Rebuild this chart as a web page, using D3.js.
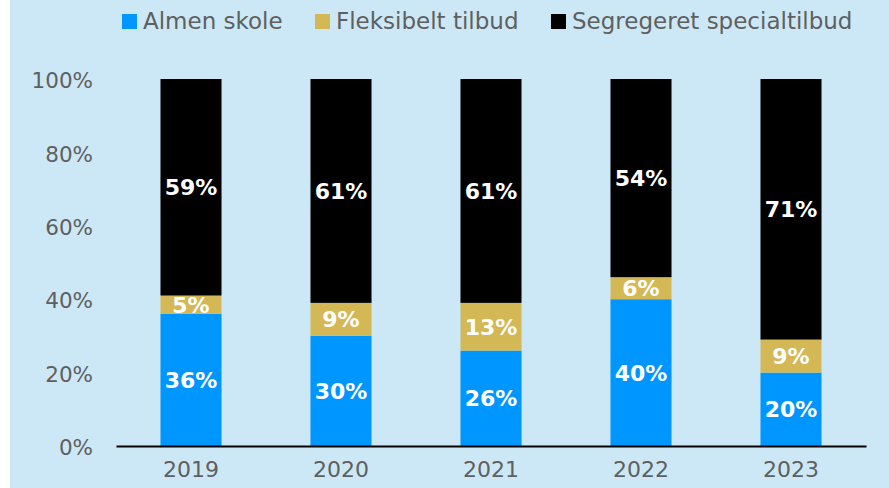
<!DOCTYPE html>
<html>
<head>
<meta charset="utf-8">
<script src="https://cdn.jsdelivr.net/npm/d3@7"></script>
<style>
  html, body { margin: 0; padding: 0; background: #ffffff; }
  svg { display: block; font-family: "DejaVu Sans", sans-serif; }
</style>
</head>
<body>
<div id="chart"></div>
<script>
// Data
var years = ["2019", "2020", "2021", "2022", "2023"];
var almenSkole = [36, 30, 26, 40, 20];
var fleksibeltTilbud = [5, 9, 13, 6, 9];
var segregeretTilbud = [59, 61, 61, 54, 71];
var seriesNames = ["Almen skole", "Fleksibelt tilbud", "Segregeret specialtilbud"];
var yTicks = [0, 20, 40, 60, 80, 100];

var colors = ["#0096ff", "#d3b855", "#000000"];

var svgWidth = 889;
var svgHeight = 488;

var svg = d3.select("#chart")
  .append("svg")
  .attr("width", svgWidth)
  .attr("height", svgHeight);

// panel background
svg.append("rect")
  .attr("x", 10)
  .attr("y", 0)
  .attr("width", svgWidth - 10)
  .attr("height", svgHeight)
  .attr("fill", "#cce8f6");

// build table for stack
var table = years.map(function(y, i) {
  return {
    year: y,
    "Almen skole": almenSkole[i],
    "Fleksibelt tilbud": fleksibeltTilbud[i],
    "Segregeret specialtilbud": segregeretTilbud[i]
  };
});

var stack = d3.stack().keys(seriesNames);
var stacked = stack(table);

var p = 0.593;
var xScale = d3.scaleBand()
  .domain(years)
  .range([116, 866])
  .paddingInner(p)
  .paddingOuter(p / 2);

var yScale = d3.scaleLinear()
  .domain([0, 100])
  .range([446, 79]);

// y tick labels
var yAxis = svg.append("g")
  .attr("transform", "translate(93,0)")
  .call(d3.axisLeft(yScale).tickValues(yTicks).tickSize(0).tickPadding(0).tickFormat(d => d + "%"));
yAxis.select(".domain").remove();
yAxis.selectAll("text")
  .attr("fill", "#5f5f5f")
  .attr("font-size", 21.5)
  .attr("font-family", "DejaVu Sans, sans-serif")
  .attr("dy", "0.4em");

// bars
var layers = svg.append("g")
  .selectAll("g")
  .data(stacked)
  .enter()
  .append("g")
  .attr("fill", (d, i) => colors[i]);

layers.selectAll("rect")
  .data(d => d)
  .enter()
  .append("rect")
  .attr("x", d => xScale(d.data.year))
  .attr("y", d => yScale(d[1]))
  .attr("width", xScale.bandwidth())
  .attr("height", d => yScale(d[0]) - yScale(d[1]));

// value labels
layers.selectAll("text")
  .data(d => d)
  .enter()
  .append("text")
  .attr("x", d => xScale(d.data.year) + xScale.bandwidth() / 2)
  .attr("y", d => (yScale(d[0]) + yScale(d[1])) / 2)
  .attr("dy", "0.36em")
  .attr("text-anchor", "middle")
  .attr("fill", "#ffffff")
  .attr("font-weight", "bold")
  .attr("font-size", 22)
  .text(d => (d[1] - d[0]) + "%");

// x axis
var xAxis = svg.append("g")
  .attr("transform", "translate(0,446)")
  .call(d3.axisBottom(xScale).tickSize(0).tickPadding(15));
xAxis.select(".domain")
  .attr("stroke", "#000000")
  .attr("stroke-width", 2);
xAxis.selectAll("text")
  .attr("fill", "#5f5f5f")
  .attr("font-size", 22)
  .attr("font-family", "DejaVu Sans, sans-serif");

// legend
var legendX = [122, 315, 551];
var legend = svg.append("g")
  .selectAll("g")
  .data(seriesNames)
  .enter()
  .append("g")
  .attr("transform", (d, i) => `translate(${legendX[i]}, 14)`);

legend.append("rect")
  .attr("width", 15)
  .attr("height", 15)
  .attr("fill", (d, i) => colors[i]);

legend.append("text")
  .attr("x", 21)
  .attr("y", 15)
  .attr("fill", "#5f5f5f")
  .attr("font-size", 23)
  .text(d => d);
</script>
</body>
</html>
